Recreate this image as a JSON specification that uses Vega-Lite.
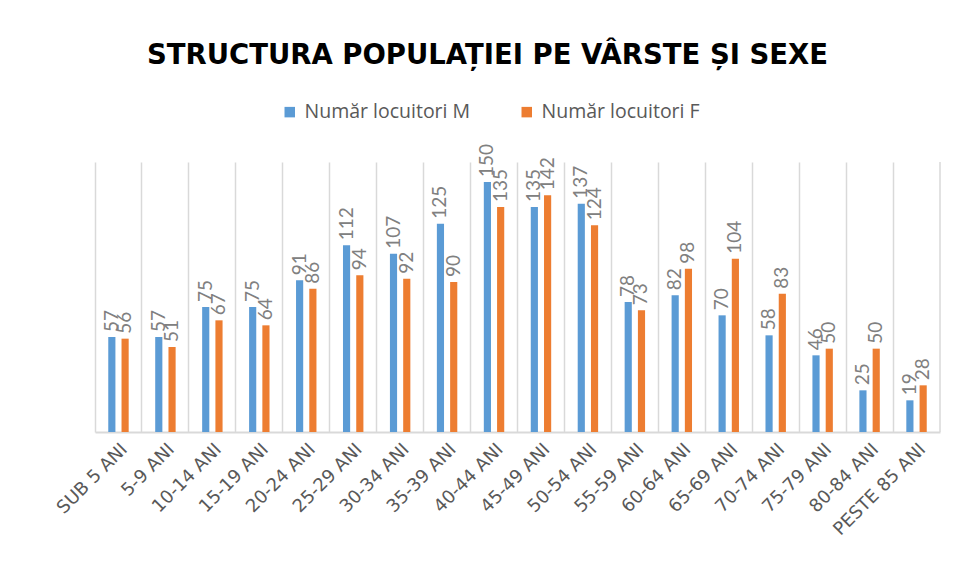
{
  "$schema": "https://vega.github.io/schema/vega-lite/v6.json",
  "width": 845,
  "height": 270,
  "autosize": {"type": "none"},
  "padding": {"left": 95, "top": 162, "right": 17, "bottom": 148},
  "background": "white",
  "config": {"view": {"stroke": null}},
  "title": {
    "text": "STRUCTURA POPULAȚIEI PE VÂRSTE ȘI SEXE",
    "font": "DejaVu Sans",
    "fontSize": 27.5,
    "fontWeight": "bold",
    "color": "#000000",
    "anchor": "middle",
    "dx": -30,
    "offset": 33
  },
  "datasets": {
    "pop": [
      {"cat": "SUB 5 ANI", "sex": "Număr locuitori M", "value": 57},
      {"cat": "SUB 5 ANI", "sex": "Număr locuitori F", "value": 56},
      {"cat": "5-9 ANI", "sex": "Număr locuitori M", "value": 57},
      {"cat": "5-9 ANI", "sex": "Număr locuitori F", "value": 51},
      {"cat": "10-14 ANI", "sex": "Număr locuitori M", "value": 75},
      {"cat": "10-14 ANI", "sex": "Număr locuitori F", "value": 67},
      {"cat": "15-19 ANI", "sex": "Număr locuitori M", "value": 75},
      {"cat": "15-19 ANI", "sex": "Număr locuitori F", "value": 64},
      {"cat": "20-24 ANI", "sex": "Număr locuitori M", "value": 91},
      {"cat": "20-24 ANI", "sex": "Număr locuitori F", "value": 86},
      {"cat": "25-29 ANI", "sex": "Număr locuitori M", "value": 112},
      {"cat": "25-29 ANI", "sex": "Număr locuitori F", "value": 94},
      {"cat": "30-34 ANI", "sex": "Număr locuitori M", "value": 107},
      {"cat": "30-34 ANI", "sex": "Număr locuitori F", "value": 92},
      {"cat": "35-39 ANI", "sex": "Număr locuitori M", "value": 125},
      {"cat": "35-39 ANI", "sex": "Număr locuitori F", "value": 90},
      {"cat": "40-44 ANI", "sex": "Număr locuitori M", "value": 150},
      {"cat": "40-44 ANI", "sex": "Număr locuitori F", "value": 135},
      {"cat": "45-49 ANI", "sex": "Număr locuitori M", "value": 135},
      {"cat": "45-49 ANI", "sex": "Număr locuitori F", "value": 142},
      {"cat": "50-54 ANI", "sex": "Număr locuitori M", "value": 137},
      {"cat": "50-54 ANI", "sex": "Număr locuitori F", "value": 124},
      {"cat": "55-59 ANI", "sex": "Număr locuitori M", "value": 78},
      {"cat": "55-59 ANI", "sex": "Număr locuitori F", "value": 73},
      {"cat": "60-64 ANI", "sex": "Număr locuitori M", "value": 82},
      {"cat": "60-64 ANI", "sex": "Număr locuitori F", "value": 98},
      {"cat": "65-69 ANI", "sex": "Număr locuitori M", "value": 70},
      {"cat": "65-69 ANI", "sex": "Număr locuitori F", "value": 104},
      {"cat": "70-74 ANI", "sex": "Număr locuitori M", "value": 58},
      {"cat": "70-74 ANI", "sex": "Număr locuitori F", "value": 83},
      {"cat": "75-79 ANI", "sex": "Număr locuitori M", "value": 46},
      {"cat": "75-79 ANI", "sex": "Număr locuitori F", "value": 50},
      {"cat": "80-84 ANI", "sex": "Număr locuitori M", "value": 25},
      {"cat": "80-84 ANI", "sex": "Număr locuitori F", "value": 50},
      {"cat": "PESTE 85 ANI", "sex": "Număr locuitori M", "value": 19},
      {"cat": "PESTE 85 ANI", "sex": "Număr locuitori F", "value": 28}
    ],
    "edge": [{"cat": "PESTE 85 ANI"}]
  },
  "data": {"name": "pop"},
  "encoding": {
    "x": {
      "field": "cat",
      "type": "nominal",
      "sort": null,
      "scale": {"paddingInner": 0, "paddingOuter": 0},
      "axis": {
        "title": null,
        "labelAngle": -45,
        "labelFont": "DejaVu Sans",
        "labelFontSize": 18,
        "labelColor": "#595959",
        "labelPadding": 8,
        "ticks": false,
        "domainColor": "#d9d9d9",
        "domainWidth": 2,
        "grid": true,
        "gridColor": "#d9d9d9",
        "gridWidth": 1.5,
        "bandPosition": 0
      }
    }
  },
  "layer": [
    {
      "mark": {"type": "bar"},
      "encoding": {
        "xOffset": {
          "field": "sex",
          "type": "nominal",
          "sort": ["Număr locuitori M", "Număr locuitori F"],
          "scale": {"paddingInner": 0.46, "paddingOuter": 1.19}
        },
        "y": {
          "field": "value",
          "type": "quantitative",
          "scale": {"domain": [0, 162], "nice": false},
          "axis": null
        },
        "color": {
          "field": "sex",
          "type": "nominal",
          "sort": ["Număr locuitori M", "Număr locuitori F"],
          "scale": {"domain": ["Număr locuitori M", "Număr locuitori F"], "range": ["#5b9bd5", "#ed7d31"]},
          "legend": {
            "title": null,
            "orient": "none",
            "direction": "horizontal",
            "legendX": 185,
            "legendY": -60,
            "symbolType": "square",
            "symbolSize": 110,
            "symbolStrokeWidth": 0,
            "labelFont": "Open Sans",
            "labelFontSize": 19.5,
            "labelColor": "#595959",
            "labelOffset": 5,
            "labelLimit": 400,
            "columnPadding": 46
          }
        }
      }
    },
    {
      "mark": {"type": "text", "angle": 270, "align": "left", "baseline": "middle", "dx": 5, "font": "Lato", "fontSize": 19, "color": "#808080"},
      "encoding": {
        "xOffset": {
          "field": "sex",
          "type": "nominal",
          "sort": ["Număr locuitori M", "Număr locuitori F"]
        },
        "y": {"field": "value", "type": "quantitative"},
        "text": {"field": "value", "type": "quantitative"}
      }
    },
    {
      "data": {"name": "edge"},
      "mark": {"type": "rule", "color": "#d9d9d9", "strokeWidth": 1.5},
      "encoding": {
        "x": {"field": "cat", "type": "nominal", "bandPosition": 1}
      }
    }
  ]
}
